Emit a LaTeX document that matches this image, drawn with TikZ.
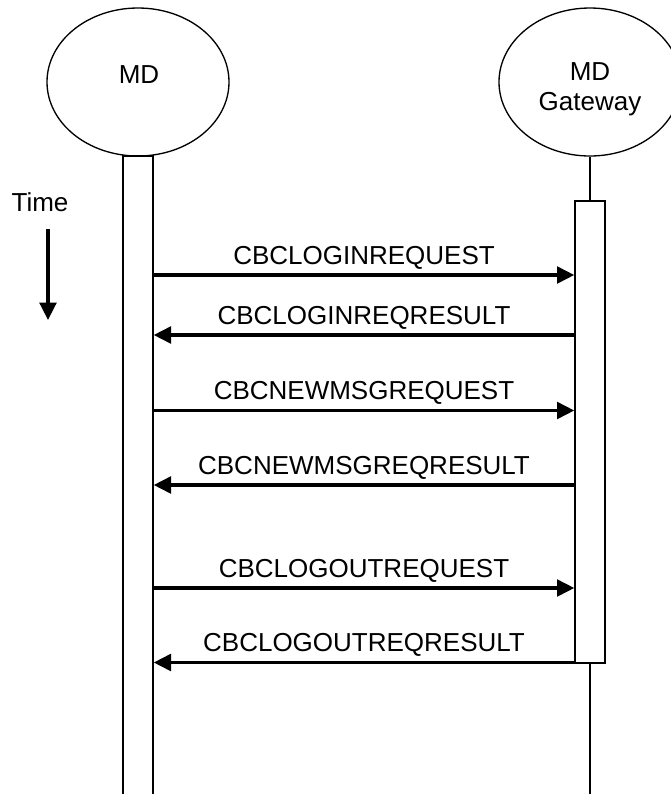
\documentclass[tikz,border=0pt]{standalone}
\usepackage{fontspec}
\setmainfont{Liberation Sans}
\usetikzlibrary{shapes.geometric,arrows.meta}
\tikzset{
  actor/.style={draw, ellipse, line width=1pt, minimum width=136.5pt, minimum height=111pt, inner sep=0pt},
  lbl/.style={font=\fontsize{19.5}{22.5}\selectfont, inner sep=0pt},
  bar/.style={draw, line width=1pt, minimum width=22.5pt, inner sep=0pt},
  msg/.style={line width=2.5pt, -{Triangle[length=13pt,width=12.5pt]}},
}
\begin{document}
\begin{tikzpicture}[x=0.75pt, y=-0.75pt]
		\useasboundingbox (0,0) rectangle (671,794);
		\node[actor] (md) at (138,82) {};
		\node[actor] (gw) at (590,82) {};
		\node[lbl] (mdname) at (139,75) {MD};
		\node[lbl, align=center] (gwname) at (590,89) {MD\\Gateway};
		\node[bar, minimum height=483pt] (mdbar) at (138,478) {};
		\node[bar, minimum height=346.5pt] (gwbox) at (590,432) {};
		\coordinate (gwend) at (590,800);
		\draw[line width=1pt] (gw.south) -- (gwbox.north);
		\draw[line width=1pt] (gwbox.south) -- (gwend);
		% time
		\node[lbl] (time) at (40,202) {Time};
		\coordinate (tstart) at (48,229);
		\coordinate (tend) at (48,320);
		\draw[msg] (tstart) -- (tend);
		% messages
		\foreach \y/\txt in {275/CBCLOGINREQUEST, 410.5/CBCNEWMSGREQUEST, 588/CBCLOGOUTREQUEST}
			\draw[msg] (mdbar.east |- 0,\y) -- node[lbl, above=3pt] {\txt} (gwbox.west |- 0,\y);
		\foreach \y/\txt in {335/CBCLOGINREQRESULT, 485/CBCNEWMSGREQRESULT, 662.5/CBCLOGOUTREQRESULT}
			\draw[msg] (gwbox.west |- 0,\y) -- node[lbl, above=3pt] {\txt} (mdbar.east |- 0,\y);
\end{tikzpicture}
\end{document}
